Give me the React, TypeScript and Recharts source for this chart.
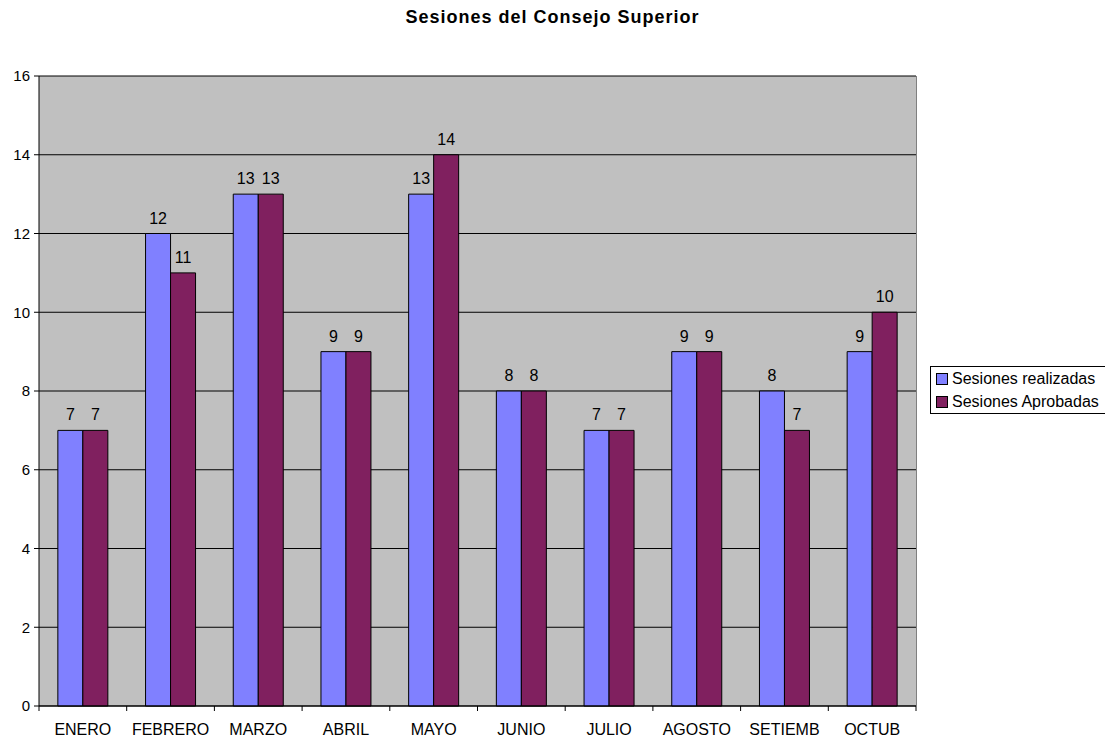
import React from "react";
import { Bar, BarChart, CartesianGrid, LabelList, XAxis, YAxis } from "recharts";

const months = ["ENERO", "FEBRERO", "MARZO", "ABRIL", "MAYO", "JUNIO", "JULIO", "AGOSTO", "SETIEMB", "OCTUB"];
const realizadas = [7, 12, 13, 9, 13, 8, 7, 9, 8, 9];
const aprobadas = [7, 11, 13, 9, 14, 8, 7, 9, 7, 10];
const yTicks = [0, 2, 4, 6, 8, 10, 12, 14, 16];

const W = 1105;
const H = 738;
const PLOT_L = 39;
const PLOT_R = 916;
const PLOT_T = 76;
const PLOT_B = 706;
const BAND = (PLOT_R - PLOT_L) / months.length;
const FONT = "'Liberation Sans', Arial, sans-serif";
const BLUE = "#8080ff";
const PLUM = "#80205f";

const data = months.map((m, i) => ({ month: m, realizadas: realizadas[i], aprobadas: aprobadas[i] }));

function MonthTick(props: any) {
  const { x, y, payload, index } = props;
  const left = x - BAND / 2;
  return (
    <g>
      <line x1={left} y1={y} x2={left} y2={y + 5} stroke="#000" />
      {index === months.length - 1 && <line x1={x + BAND / 2} y1={y} x2={x + BAND / 2} y2={y + 5} stroke="#000" />}
      <text x={x} y={y + 29} textAnchor="middle" fontSize={16} fontFamily={FONT} fill="#000">
        {payload.value}
      </text>
    </g>
  );
}

function LegendBox() {
  const item = (color: string, label: string) => (
    <div style={{ display: "flex", alignItems: "center", height: 23 }}>
      <span style={{ display: "inline-block", width: 10, height: 10, background: color, border: "1px solid #000", marginRight: 4 }} />
      <span>{label}</span>
    </div>
  );
  return (
    <div style={{ position: "absolute", left: 930, top: 366, width: 190, height: 48, border: "1px solid #000", background: "#fff", padding: "0 0 0 5px", fontSize: 16, fontFamily: FONT, color: "#000", boxSizing: "border-box", whiteSpace: "nowrap" }}>
      {item(BLUE, "Sesiones realizadas")}
      {item(PLUM, "Sesiones Aprobadas")}
    </div>
  );
}

export default function App() {
  return (
    <div style={{ position: "fixed", left: 0, top: 0, width: W, height: H, background: "#fff", overflow: "hidden" }}>
      <div style={{ position: "absolute", left: 0, width: W, top: 7, textAlign: "center", fontFamily: FONT, fontWeight: "bold", fontSize: 18, letterSpacing: 1 }}>
        Sesiones del Consejo Superior
      </div>
      <BarChart
        width={W}
        height={H}
        data={data}
        margin={{ top: PLOT_T, right: W - PLOT_R, bottom: 0, left: 0 }}
        barGap={0}
        barCategoryGap="21.5%"
      >
        <CartesianGrid vertical={false} stroke="#000" fill="#c0c0c0" />
        <XAxis
          dataKey="month"
          height={H - PLOT_B}
          axisLine={{ stroke: "#000" }}
          tickLine={false}
          tickSize={0}
          tickMargin={0}
          interval={0}
          tick={<MonthTick />}
        />
        <YAxis
          width={PLOT_L}
          domain={[0, 16]}
          ticks={yTicks}
          interval={0}
          axisLine={{ stroke: "#000" }}
          tickLine={{ stroke: "#000" }}
          tickSize={5}
          tickMargin={4}
          tick={{ fontSize: 15, fontFamily: FONT, fill: "#000" }}
        />
        <Bar dataKey="realizadas" name="Sesiones realizadas" fill={BLUE} stroke="#000" strokeWidth={1} isAnimationActive={false}>
          <LabelList dataKey="realizadas" position="top" offset={10} fontSize={16} fontFamily={FONT} fill="#000" />
        </Bar>
        <Bar dataKey="aprobadas" name="Sesiones Aprobadas" fill={PLUM} stroke="#000" strokeWidth={1} isAnimationActive={false}>
          <LabelList dataKey="aprobadas" position="top" offset={10} fontSize={16} fontFamily={FONT} fill="#000" />
        </Bar>
      </BarChart>
      <div style={{ position: "absolute", left: PLOT_R, top: PLOT_T, width: 1, height: PLOT_B - PLOT_T, background: "#808080" }} />
      <LegendBox />
    </div>
  );
}
